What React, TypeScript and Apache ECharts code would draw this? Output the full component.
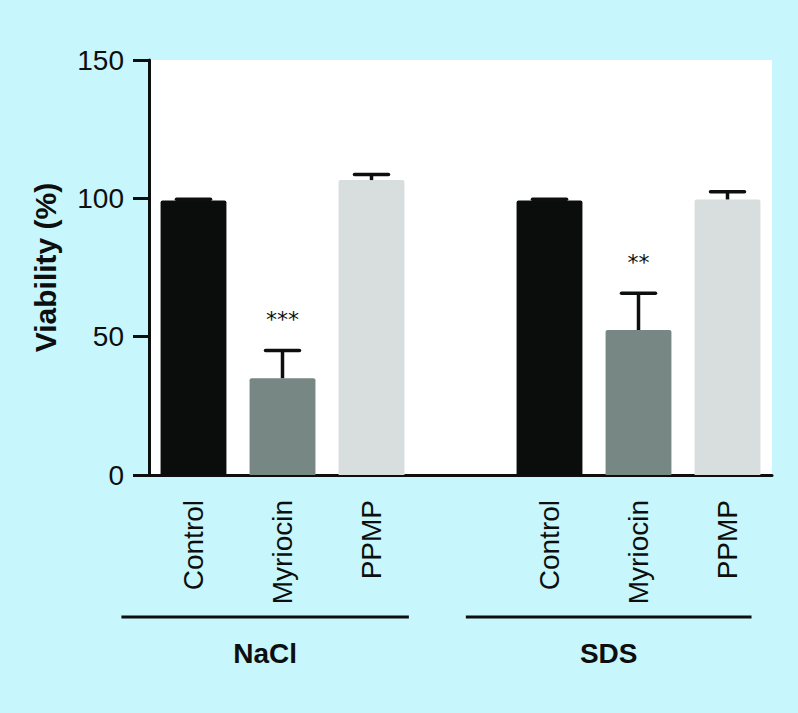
import React, { useEffect, useRef } from 'react';
import * as echarts from 'echarts';

// ---- data ----
const categories = ['Control', 'Myriocin', 'PPMP', '', 'Control', 'Myriocin', 'PPMP'];
const viability: (number | null)[] = [99.2, 35, 106.6, null, 99.2, 52.4, 99.6];
const errors: (number | null)[] = [0.5, 10, 2, null, 0.5, 13.3, 2.8];
const significance = ['', '***', '', '', '', '**', ''];
const groupNames = ['NaCl', 'SDS'];
const yTickMin = 0;
const yTickMax = 150;
const yTickStep = 50;

// ---- styling / layout (not data) ----
const barColors = ['#0b0d0c', '#778784', '#d8dede', 'transparent', '#0b0d0c', '#778784', '#d8dede'];
const groupSpans = [[-0.81, 2.42], [3.06, 6.27]]; // bracket extents in category units
const FONT = '"Liberation Sans", Arial, Helvetica, sans-serif';
const INK = '#0d0f0e';

export default function App() {
  const ref = useRef<HTMLDivElement>(null);

  useEffect(() => {
    if (!ref.current) return;
    const chart = echarts.init(ref.current, undefined, { renderer: 'svg' });

    const errData = categories
      .map((_, i) => (viability[i] == null ? null : [i, viability[i], errors[i], i]))
      .filter((d) => d !== null);

    chart.setOption({
      animation: false,
      backgroundColor: '#c7f6fc',
      textStyle: { fontFamily: FONT },
      grid: {
        left: 149,
        top: 60,
        right: 26,
        bottom: 238,
        show: true,
        backgroundColor: '#ffffff',
        borderWidth: 0,
      },
      xAxis: {
        type: 'category',
        data: categories,
        axisLine: { lineStyle: { color: INK, width: 3 } },
        axisTick: {
          alignWithLabel: true,
          length: 16,
          lineStyle: { color: INK, width: 3 },
          interval: (index: number, value: string) => value !== '',
        },
        axisLabel: {
          rotate: 90,
          margin: 25,
          fontSize: 28,
          color: INK,
          fontFamily: FONT,
          interval: 0,
        },
      },
      yAxis: {
        type: 'value',
        min: yTickMin,
        max: yTickMax,
        interval: yTickStep,
        name: 'Viability (%)',
        nameLocation: 'middle',
        nameGap: 89,
        nameRotate: 90,
        nameTextStyle: { fontSize: 30, fontWeight: 'bold', color: INK, fontFamily: FONT },
        axisLine: { show: true, lineStyle: { color: INK, width: 3 } },
        axisTick: { show: true, length: 16, lineStyle: { color: INK, width: 3 } },
        axisLabel: { margin: 25, fontSize: 28, color: INK, fontFamily: FONT },
        splitLine: { show: false },
      },
      series: [
        {
          type: 'bar',
          barWidth: '74%',
          data: viability.map((v, i) =>
            v == null
              ? '-'
              : { value: v, itemStyle: { color: barColors[i], borderRadius: [2, 2, 0, 0] } }
          ),
          z: 2,
        },
        {
          type: 'custom',
          z: 5,
          encode: { x: 0, y: 1 },
          data: errData,
          renderItem: (params: any, api: any) => {
            const idx = api.value(0);
            const v = api.value(1);
            const e = api.value(2);
            const k = api.value(3);
            const base = api.coord([idx, v]);
            const top = api.coord([idx, v + e]);
            const children: any[] = [
              {
                type: 'line',
                shape: { x1: base[0], y1: base[1], x2: top[0], y2: top[1] },
                style: { stroke: INK, lineWidth: 3.5 },
              },
              {
                type: 'line',
                shape: { x1: top[0] - 17, y1: top[1], x2: top[0] + 17, y2: top[1] },
                style: { stroke: INK, lineWidth: 3.5, lineCap: 'round' },
              },
            ];
            const s = significance[k];
            if (s) {
              children.push({
                type: 'text',
                x: top[0],
                y: top[1] - 31,
                style: {
                  text: s,
                  fill: INK,
                  fontSize: 22,
                  fontFamily: '"DejaVu Sans", sans-serif',
                  align: 'center',
                  verticalAlign: 'middle',
                },
              });
            }
            return { type: 'group', children };
          },
        },
      ],
    });

    // group brackets and names, positioned through the category axis
    const band =
      (chart.convertToPixel({ xAxisIndex: 0 }, 1) as number) -
      (chart.convertToPixel({ xAxisIndex: 0 }, 0) as number);
    const x0 = chart.convertToPixel({ xAxisIndex: 0 }, 0) as number;
    const toPx = (u: number) => x0 + u * band;
    const graphics: any[] = [];
    groupNames.forEach((name, g) => {
      const a = toPx(groupSpans[g][0]);
      const b = toPx(groupSpans[g][1]);
      graphics.push({
        type: 'line',
        shape: { x1: a, y1: 617, x2: b, y2: 617 },
        style: { stroke: INK, lineWidth: 3 },
      });
      graphics.push({
        type: 'text',
        x: (a + b) / 2,
        y: 653,
        style: {
          text: name,
          fill: INK,
          fontSize: 28,
          fontWeight: 'bold',
          fontFamily: FONT,
          align: 'center',
          verticalAlign: 'middle',
        },
      });
    });
    chart.setOption({ graphic: graphics });

    return () => chart.dispose();
  }, []);

  return (
    <div
      ref={ref}
      style={{ position: 'fixed', left: 0, top: 0, width: 798, height: 713 }}
    />
  );
}
